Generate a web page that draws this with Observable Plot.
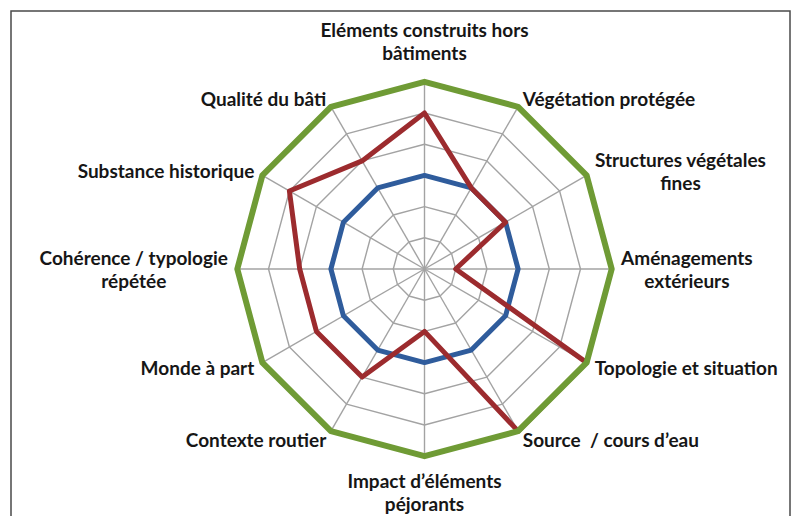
<!DOCTYPE html>
<html>
<head>
<meta charset="utf-8">
<script src="https://cdn.jsdelivr.net/npm/d3@7"></script>
<script src="https://cdn.jsdelivr.net/npm/@observablehq/plot@0.6"></script>
<style>
  html, body { margin: 0; padding: 0; background: #fff; }
  svg text { white-space: pre; }
</style>
</head>
<body>
<div id="chart"></div>
<script>
// ---- Data ----
const categories = [
  "Eléments construits hors\nbâtiments",
  "Végétation protégée",
  "Structures végétales\nfines",
  "Aménagements\nextérieurs",
  "Topologie et situation",
  "Source  / cours d’eau",
  "Impact d’éléments\npéjorants",
  "Contexte routier",
  "Monde à part",
  "Cohérence / typologie\nrépétée",
  "Substance historique",
  "Qualité du bâti"
];
const seriesBlue  = [3, 3, 3, 3, 3, 3, 3, 3, 3, 3, 3, 3];
const seriesRed   = [5, 3, 3, 1, 6, 6, 2, 4, 4, 4, 5, 4];
const seriesGreen = [6, 6, 6, 6, 6, 6, 6, 6, 6, 6, 6, 6];
const ringLevels  = [1, 2, 3, 4, 5, 6];

// ---- Layout ----
const W = 795, H = 516;
const CX = 424, CY = 268.5, U = 31.2; // center and pixels per unit
const FONT = "Lato, 'Open Sans', sans-serif";
const FS = 19, LH = 23;

const n = categories.length;
const ang = i => (i * 2 * Math.PI) / n;
const px = (v, i) => v * Math.sin(ang(i));
const py = (v, i) => v * Math.cos(ang(i));
const maxV = d3.max(ringLevels);

const toPoints = (vals, name) => vals.map((v, i) => ({ serie: name, x: px(v, i), y: py(v, i) }));
const rings = ringLevels.flatMap(l => categories.map((c, i) => ({ level: l, x: px(l, i), y: py(l, i) })));
const spokes = categories.map((c, i) => ({ x2: px(maxV, i), y2: py(maxV, i) }));

// label placement
const ctx = document.createElement("canvas").getContext("2d");
ctx.font = `bold ${FS}px ${FONT}`;
const labels = categories.map((c, i) => {
  const s = Math.sin(ang(i)), co = Math.cos(ang(i));
  const lines = c.split("\n");
  const w = d3.max(lines, l => ctx.measureText(l).width);
  const r = 6.3;
  let x = r * s, y = r * co;
  if (s > 0.3) x += (w / 2) / U;
  else if (s < -0.3) x -= (w / 2) / U;
  if (Math.abs(co) > 0.9) y += Math.sign(co) * ((lines.length * LH) / 2 + (co > 0 ? 8 : 4)) / U;
  return { text: c, x, y };
});

const chart = Plot.plot({
  width: W,
  height: H,
  margin: 0,
  x: { domain: [-CX / U, (W - CX) / U], range: [0, W], axis: null },
  y: { domain: [-(H - CY) / U, CY / U], range: [H, 0], axis: null },
  style: { fontFamily: FONT, background: "#fff" },
  marks: [
    Plot.frame({ stroke: "#4a4a4a", strokeWidth: 1.5, insetLeft: 10.5, insetTop: 10.5, insetRight: 5.5, insetBottom: -10 }),
    Plot.link(spokes, { x1: 0, y1: 0, x2: "x2", y2: "y2", stroke: "#a3a3a3", strokeWidth: 1.4 }),
    Plot.line(rings, { x: "x", y: "y", z: "level", curve: "linear-closed", stroke: "#a3a3a3", strokeWidth: 1.4 }),
    Plot.line(toPoints(seriesBlue, "blue"), { x: "x", y: "y", curve: "linear-closed", stroke: "#2f5c9c", strokeWidth: 5, strokeLinejoin: "round" }),
    Plot.line(toPoints(seriesRed, "red"), { x: "x", y: "y", curve: "linear-closed", stroke: "#9c2b2e", strokeWidth: 5, strokeLinejoin: "round" }),
    Plot.line(toPoints(seriesGreen, "green"), { x: "x", y: "y", curve: "linear-closed", stroke: "#6f9b35", strokeWidth: 6, strokeLinejoin: "round" }),
    Plot.text(labels, { x: "x", y: "y", text: "text", textAnchor: "middle", lineAnchor: "middle", lineHeight: LH / FS, fontSize: FS, fontWeight: "bold", fill: "#161616" })
  ]
});
document.getElementById("chart").appendChild(chart);
</script>
</body>
</html>
